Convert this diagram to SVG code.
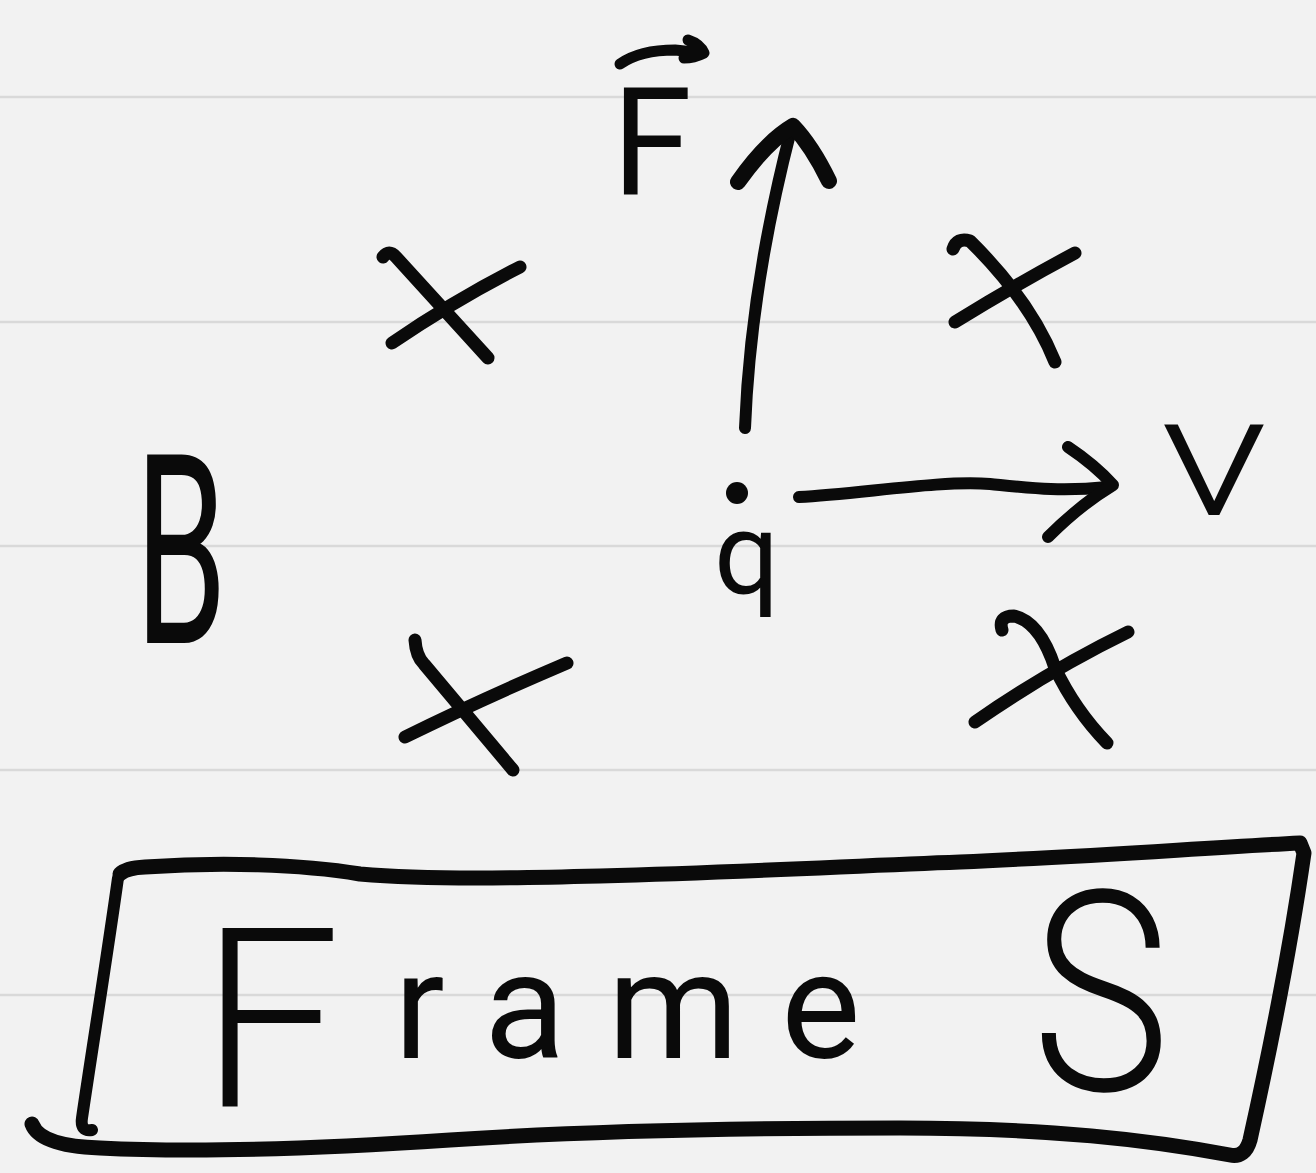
<svg xmlns="http://www.w3.org/2000/svg" width="1316" height="1173" viewBox="0 0 1316 1173">
<defs>
<style>
.paper{fill:#f2f2f2}
.rule{stroke:#d9d9d9;stroke-width:2.5;fill:none}
.ink{stroke:#0a0a0a;fill:none;stroke-linecap:round;stroke-linejoin:round}
.mark{stroke-width:13}
.hand{fill:#0a0a0a;font-family:"Roboto","Liberation Sans",sans-serif;font-weight:400}
.big{font-weight:300}
</style>
</defs>
<rect class="paper" x="0" y="0" width="1316" height="1173"/>
<g id="ruling">
<line class="rule" x1="0" y1="97" x2="1316" y2="97"/>
<line class="rule" x1="0" y1="322" x2="1316" y2="322"/>
<line class="rule" x1="0" y1="546" x2="1316" y2="546"/>
<line class="rule" x1="0" y1="770" x2="1316" y2="770"/>
<line class="rule" x1="0" y1="995" x2="1316" y2="995"/>
</g>
<g id="field-B">
<text class="hand" x="135" y="643" font-size="265" textLength="92" lengthAdjust="spacingAndGlyphs">B</text>
</g>
<g id="cross-1"><path class="ink mark" d="M383,257 Q389,249 396,257 Q440,305 488,358 M392,343 Q455,300 520,267"/></g>
<g id="cross-2"><path class="ink mark" d="M953,249 Q957,237 970,241 Q1030,300 1055,362 M955,322 Q1015,285 1075,253"/></g>
<g id="cross-3"><path class="ink mark" d="M415,640 Q416,656 424,664 L513,770 M405,737 Q480,700 567,663"/></g>
<g id="cross-4"><path class="ink mark" d="M1002,630 Q998,616 1014,616 Q1040,622 1055,668 Q1075,710 1107,743 M975,722 Q1050,670 1128,632"/></g>
<g id="charge-q">
<circle cx="737" cy="493" r="11" fill="#0a0a0a"/>
<text class="hand" x="714" y="594" font-size="115">q</text>
</g>
<g id="label-F">
<text class="hand" x="612" y="194" font-size="151" textLength="80" lengthAdjust="spacingAndGlyphs">F</text>
<path class="ink" stroke-width="11" d="M620,64 Q640,50 675,50 L703,53 M688,40 Q700,44 704,53 Q694,58 684,58"/>
</g>
<g id="label-v">
<text class="hand big" x="1160" y="515" font-size="170" textLength="108" lengthAdjust="spacingAndGlyphs">v</text>
</g>
<g id="connectors">
<path class="ink" stroke-width="12" d="M745,428 C748,350 760,250 791,130"/>
<path class="ink" stroke-width="16" d="M738,182 Q766,142 793,126 Q812,146 829,181"/>
<path class="ink" stroke-width="12" d="M799,497 C860,494 940,480 990,484 C1030,488 1060,492 1108,487"/>
<path class="ink" stroke-width="12" d="M1068,447 Q1095,465 1113,485 Q1080,505 1048,537"/>
</g>
<g id="frame-S">
<path class="ink" stroke-width="15" d="M120,874 Q126,868 145,867 C220,862 300,864 360,874 C430,880 520,878 600,876 C750,872 850,866 960,862 C1100,856 1200,848 1300,843 L1304,853 C1290,950 1270,1050 1250,1140 Q1245,1158 1230,1155 C1150,1140 1050,1128 900,1128 C750,1128 600,1130 450,1140 C300,1150 180,1152 100,1148 Q40,1146 32,1124"/>
<path class="ink" stroke-width="12" d="M118,878 C108,950 92,1050 82,1118 Q80,1132 92,1130"/>
<text class="hand"><tspan class="big" x="200" y="1106" font-size="250">F</tspan><tspan x="394" y="1058" font-size="150" letter-spacing="42">rame</tspan><tspan class="big" x="975" y="1090" font-size="280" textLength="195" lengthAdjust="spacingAndGlyphs"> S</tspan></text>
</g>
</svg>
